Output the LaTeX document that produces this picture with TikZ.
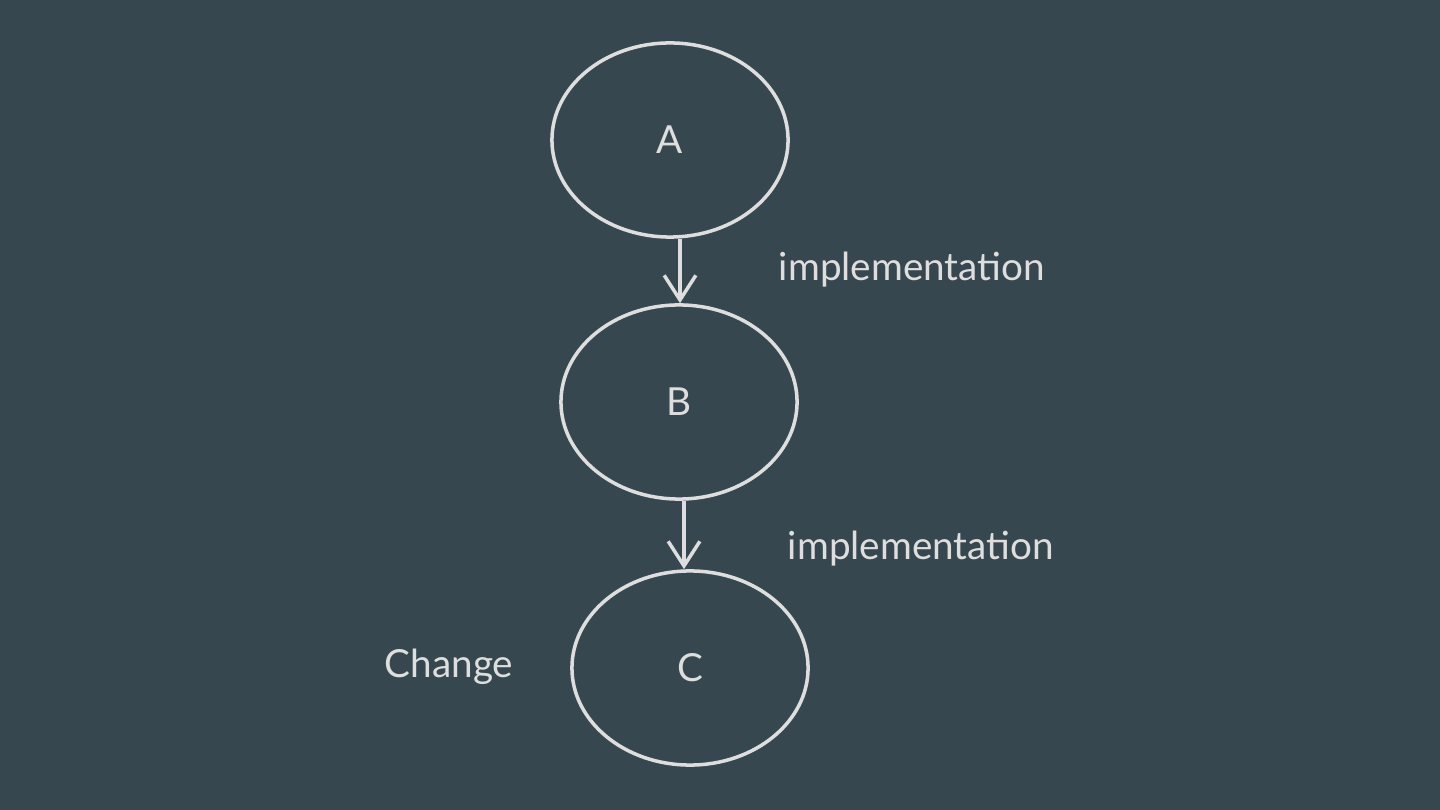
\documentclass[tikz,border=0pt]{standalone}
\usepackage{fontspec}
\setmainfont{Lato}
\usetikzlibrary{shapes.geometric,arrows.meta}
\definecolor{slate}{RGB}{55,71,79}
\definecolor{chalk}{RGB}{222,222,222}
\begin{document}
\begin{tikzpicture}[x=0.01cm,y=-0.01cm,
  blob/.style={draw=chalk, ellipse, line width=1pt, minimum width=2.36cm, minimum height=1.94cm, text=chalk, font=\fontsize{11}{13}\selectfont},
  note/.style={text=chalk, font=\fontsize{11}{13}\selectfont},
  link/.style={draw=chalk, line width=1pt, -{Straight Barb[length=7pt,width=9pt]}}]
\fill[slate] (0,0) rectangle (1440,810);
\useasboundingbox (0,0) rectangle (1440,810);

\node[blob] (a) at (670,140) {A};
\node[blob] (b) at (679,402) {B};
\node[blob] (c) at (690,668) {C};

\draw[link] (a.south -| 680,0) -- (b.north -| 680,0);
\draw[link] (b.south -| 684,0) -- (c.north -| 684,0);

\node[note] (l1) at (912,270) {implementation};
\node[note] (l2) at (921,549) {implementation};
\node[note] (ch) at (449,667) {Change};
\end{tikzpicture}
\end{document}
